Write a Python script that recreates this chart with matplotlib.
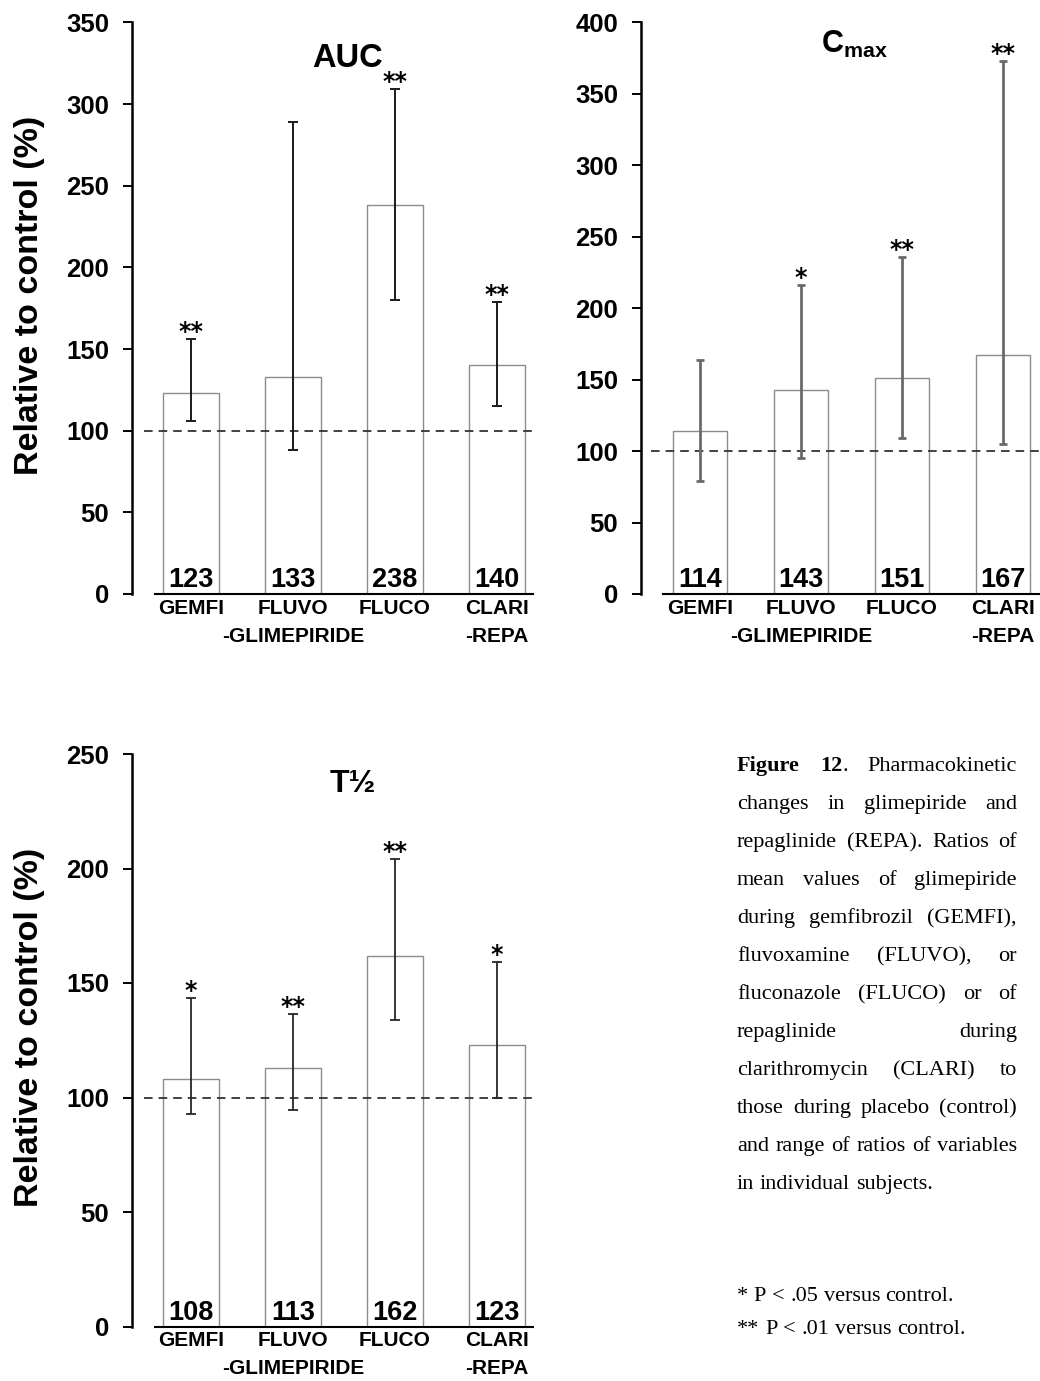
import matplotlib
matplotlib.use("Agg")
import matplotlib.pyplot as plt
import numpy as np

plt.rcParams['font.family'] = ['Liberation Sans', 'DejaVu Sans']
plt.rcParams['mathtext.fontset'] = 'custom'
plt.rcParams['mathtext.bf'] = 'Liberation Sans:bold'
plt.rcParams['mathtext.rm'] = 'Liberation Sans'
plt.rcParams['lines.scale_dashes'] = False

# ---------------- data ----------------
categories = ['GEMFI', 'FLUVO', 'FLUCO', 'CLARI']
group_labels = ['-GLIMEPIRIDE', '-REPA']
group_positions = [1, 3]

auc_mean = [123, 133, 238, 140]
auc_low = [106, 88, 180, 115]
auc_high = [156, 289, 309, 179]
auc_sig = ['**', '', '**', '**']

cmax_mean = [114, 143, 151, 167]
cmax_low = [79, 95, 109, 105]
cmax_high = [164, 216, 236, 373]
cmax_sig = ['', '*', '**', '**']

thalf_mean = [108, 113, 162, 123]
thalf_low = [93, 94.5, 134, 100]
thalf_high = [143.5, 136.5, 204, 159]
thalf_sig = ['*', '**', '**', '*']

auc_ticks = [0, 50, 100, 150, 200, 250, 300, 350]
cmax_ticks = [0, 50, 100, 150, 200, 250, 300, 350, 400]
thalf_ticks = [0, 50, 100, 150, 200, 250]

control_level = 100
ylabel_text = 'Relative to control (%)'

caption_lines = [
    [[('Figure', 'bold')], [('12', 'bold'), ('.', 'normal')], [('Pharmacokinetic', 'normal')]],
    'changes in glimepiride and',
    'repaglinide (REPA). Ratios of',
    'mean values of glimepiride',
    'during gemfibrozil (GEMFI),',
    'fluvoxamine (FLUVO), or',
    'fluconazole (FLUCO) or of',
    'repaglinide during',
    'clarithromycin (CLARI) to',
    'those during placebo (control)',
    'and range of ratios of variables',
]
caption_last = 'in individual subjects.'
footnotes = ['* P < .05 versus control.', '** P < .01 versus control.']

# ---------------- figure ----------------
W, H = 1040, 1381
fig = plt.figure(figsize=(W / 100, H / 100), dpi=100)


def px_axes(left, right, top, bottom):
    return fig.add_axes([left / W, 1 - bottom / H, (right - left) / W, (bottom - top) / H])


def draw_panel(ax, means, lows, highs, sigs, ticks, xlim, spine_off_pt, ecolor, elw,
               capsize, title_fn, ylabel=True, dash_start=-0.03):
    for sp in ['top', 'right']:
        ax.spines[sp].set_visible(False)
    ax.spines['left'].set_position(('outward', spine_off_pt))
    ax.spines['left'].set_linewidth(1.8)
    ax.spines['bottom'].set_linewidth(1.5)

    x = np.arange(len(categories))
    means = np.array(means, dtype=float)
    lows = np.array(lows, dtype=float)
    highs = np.array(highs, dtype=float)
    ax.bar(x, means, width=0.54, color='white', edgecolor='#8c8c8c', linewidth=1.0, zorder=2)
    ax.axhline(control_level, xmin=dash_start, xmax=1.0, color='#333333', lw=1.3,
               dashes=(6.2, 4.3), clip_on=False, zorder=3)
    ax.errorbar(x, means, yerr=[means - lows, highs - means], fmt='none', ecolor=ecolor,
                elinewidth=elw, capsize=capsize, capthick=elw, zorder=4)
    for xi, m, hi, s in zip(x, means, highs, sigs):
        ax.annotate(f'{int(round(m))}', (xi, 0), xytext=(0, 5), textcoords='offset points',
                    ha='center', va='baseline', fontsize=19.5, fontweight='bold', zorder=5)
        if s:
            ax.annotate(s, (xi, hi), xytext=(0, 0), textcoords='offset points',
                        ha='center', va='baseline', fontsize=17, fontweight='bold',
                        family='DejaVu Sans', zorder=5)
    ax.set_xlim(*xlim)
    ax.set_ylim(ticks[0], ticks[-1])
    ax.set_yticks(ticks, labels=[str(t) for t in ticks], fontsize=18.5, fontweight='bold')
    ax.set_xticks(x, labels=categories, fontsize=15, fontweight='bold')
    ax.tick_params(axis='x', length=0, pad=3.5)
    ax.tick_params(axis='y', direction='out', length=6.5, width=1.4, pad=10)
    for gl, gp in zip(group_labels, group_positions):
        ax.annotate(gl, (gp, 0), xytext=(0, -23.5), textcoords='offset points',
                    ha='center', va='top', fontsize=15, fontweight='bold',
                    xycoords=('data', 'axes fraction'), annotation_clip=False)
    title_fn(ax)
    if ylabel:
        ax.text(-0.331, 0.523, ylabel_text, transform=ax.transAxes, rotation=90,
                ha='center', va='center', fontsize=24.5, fontweight='bold')


ax1 = px_axes(155, 533, 22.5, 594)
draw_panel(ax1, auc_mean, auc_low, auc_high, auc_sig, auc_ticks, (-0.353, 3.353), 16.5,
           '#1a1a1a', 1.4, 3.6,
           lambda a: a.text(1.53, 322.7, 'AUC', ha='center', va='baseline',
                            fontsize=23.5, fontweight='bold'))

ax2 = px_axes(663, 1040, 22.5, 594)
draw_panel(ax2, cmax_mean, cmax_low, cmax_high, cmax_sig, cmax_ticks, (-0.366, 3.366), 15.8,
           '#6a6a6a', 2.0, 3.2,
           lambda a: a.text(1.53, 378.8, r'$\mathbf{C}_{\mathbf{max}}$', ha='center',
                            va='baseline', fontsize=22),
           ylabel=False, dash_start=-0.032)

ax3 = px_axes(155, 533, 754, 1326.5)
draw_panel(ax3, thalf_mean, thalf_low, thalf_high, thalf_sig, thalf_ticks, (-0.353, 3.353), 16.5,
           '#262626', 1.3, 3.6,
           lambda a: a.text(1.59, 233.2, 'T\u00bd', ha='center', va='baseline',
                            fontsize=23, fontweight='bold'))

# ---------------- caption (justified) ----------------
renderer = fig.canvas.get_renderer()
cap_fs = 16
cap_family = ['Liberation Serif', 'DejaVu Serif']
x0_px, x1_px = 737, 1017
base0_px = 771
line_h = 38.0
foot_base = [1301, 1334]


def seg_width(s, weight):
    t = fig.text(0, 0, s, fontsize=cap_fs, family=cap_family, fontweight=weight)
    w = t.get_window_extent(renderer).width
    t.remove()
    return w


def to_words(line):
    if isinstance(line, str):
        return [[(w, 'normal')] for w in line.split(' ')]
    return line


def draw_line(words, base_px, justify):
    widths = [sum(seg_width(s, wt) for s, wt in w) for w in words]
    space = seg_width('a a', 'normal') - 2 * seg_width('a', 'normal')
    if justify and len(words) > 1:
        gap = (x1_px - x0_px - sum(widths)) / (len(words) - 1)
    else:
        gap = space
    xp = x0_px
    for w, wd in zip(words, widths):
        xs = xp
        for s, wt in w:
            fig.text(xs / W, 1 - base_px / H, s, fontsize=cap_fs, family=cap_family,
                     fontweight=wt, ha='left', va='baseline')
            xs += seg_width(s, wt)
        xp += wd + gap


for i, line in enumerate(caption_lines):
    draw_line(to_words(line), base0_px + i * line_h, True)
draw_line(to_words(caption_last), base0_px + len(caption_lines) * line_h, False)
for fn, fb in zip(footnotes, foot_base):
    draw_line(to_words(fn), fb, False)

fig.savefig('out.png', dpi=100)
